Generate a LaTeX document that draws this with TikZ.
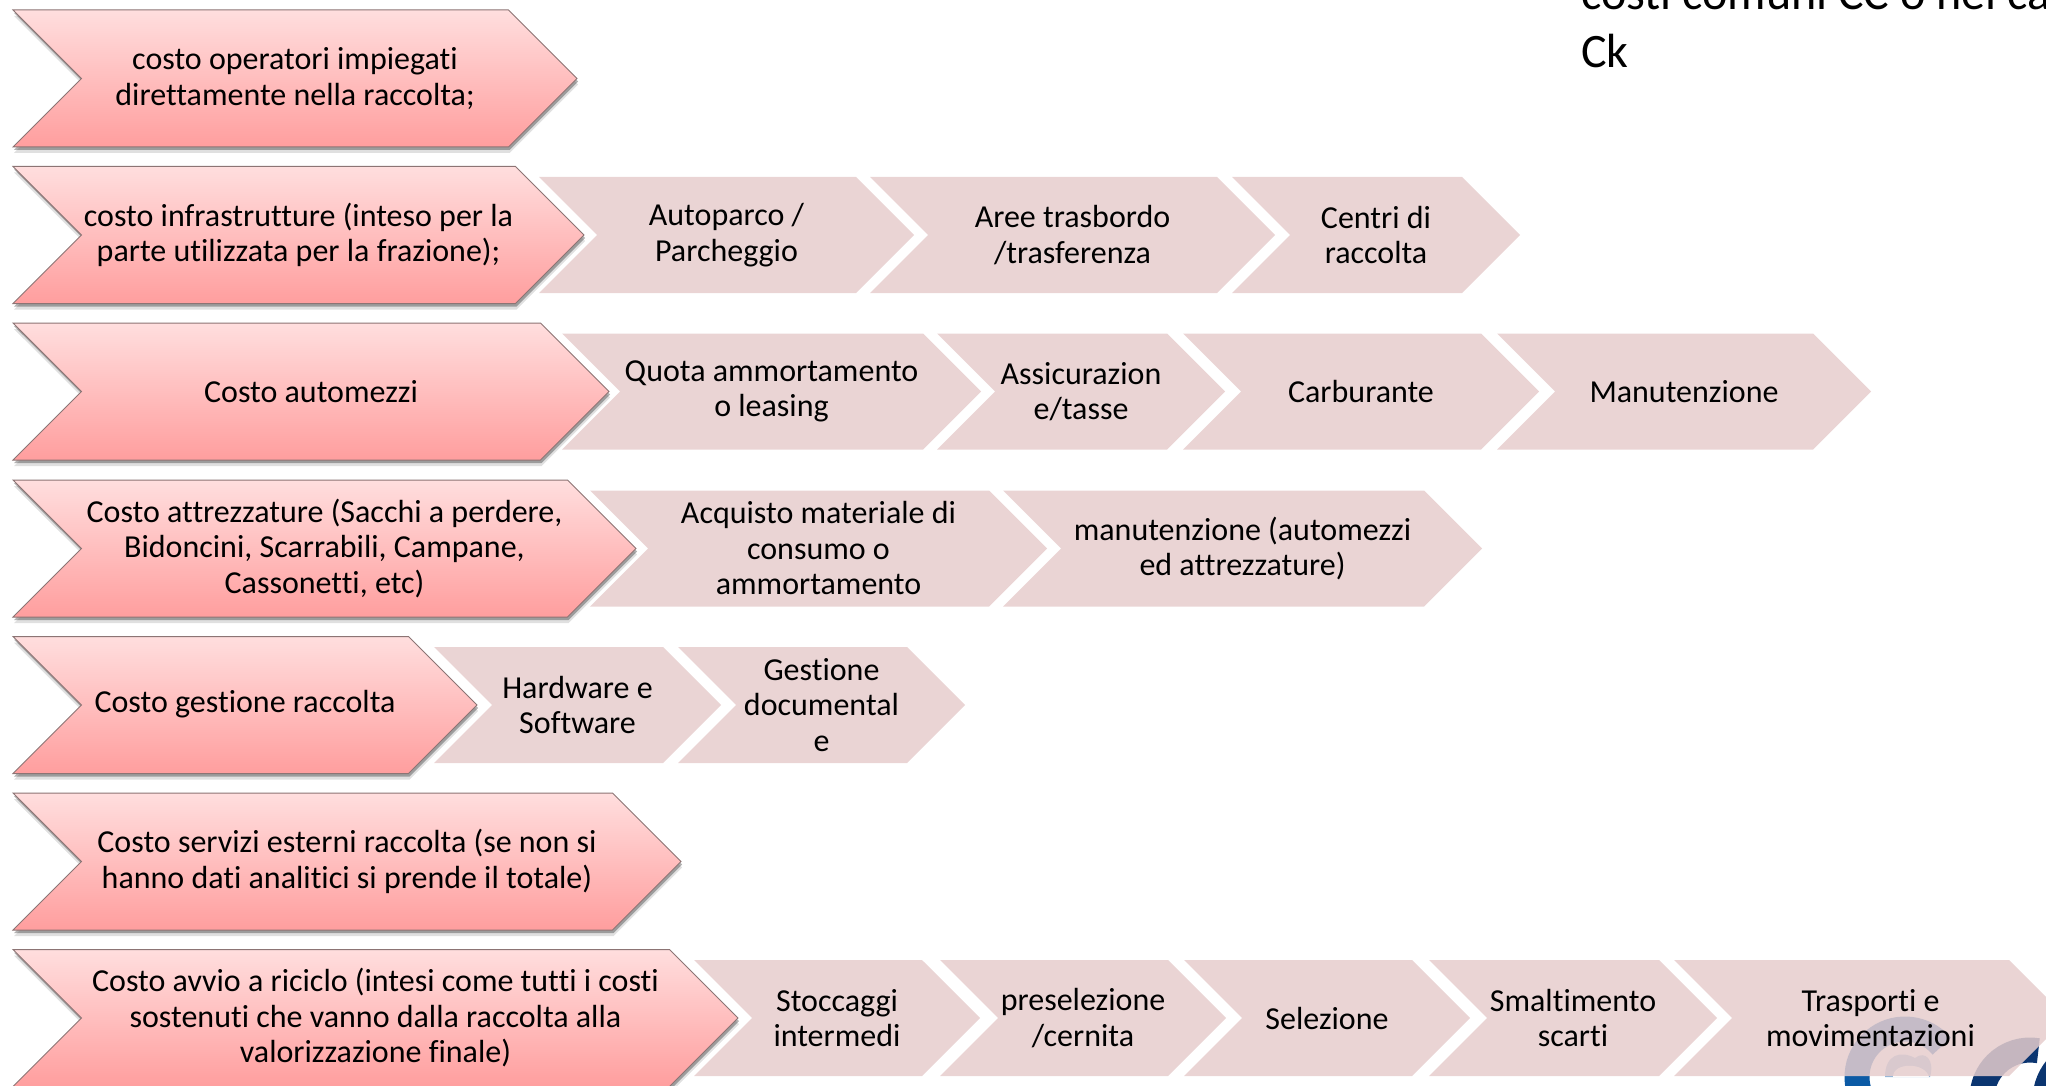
\documentclass[tikz,border=0pt]{standalone}
\usepackage{fontspec}
\setmainfont{Carlito}[Ligatures=NoCommon]
\usetikzlibrary{shapes.symbols,shadows}
\definecolor{redtop}{HTML}{FFDEDE}
\definecolor{redbot}{HTML}{FF9E9E}
\definecolor{redline}{HTML}{8C7474}
\definecolor{lightred}{HTML}{E6CDCD}
\definecolor{logoblue}{HTML}{0B5AA5}
\definecolor{logodark}{HTML}{0B3570}
\definecolor{logoleaf}{HTML}{8FB4D8}
\tikzset{
mainarrow/.style={signal, signal to=east, signal from=west, signal pointer angle=90,
  minimum height=137pt, inner sep=0pt, align=center, draw=redline, line width=1pt,
  top color=redtop, bottom color=redbot, font=\fontsize{32}{35.5}\selectfont,
  drop shadow={shadow xshift=1pt, shadow yshift=-3pt, fill=black, opacity=.3},
  drop shadow={shadow xshift=1pt, shadow yshift=-6pt, fill=black, opacity=.12}},
subarrow/.style={signal, signal to=east, signal from=west, signal pointer angle=90,
  minimum height=116pt, inner sep=0pt, align=center, fill=lightred, fill opacity=.85,
  text opacity=1, font=\fontsize{32}{35.5}\selectfont},
}
\begin{document}
\begin{tikzpicture}[x=1pt,y=-1pt]
\useasboundingbox (0,0) rectangle (2046,1086);
\clip (0,0) rectangle (2046,1086);
% logo behind the last row
\draw[logoblue, line width=25pt] (1905,1077) ++(215:48pt) arc (215:40:48pt);
\draw[logodark, line width=25pt] (2030,1098) ++(225:48pt) arc (225:80:48pt);
\draw[logodark, line width=25pt] (2095,1100) ++(230:50pt) arc (230:110:50pt);
\fill[logoleaf] (1885,1077) .. controls (1885,1055) and (1900,1050) .. (1915,1058) .. controls (1925,1050) and (1935,1060) .. (1930,1077) -- cycle;
\fill[white] (1893,1077) .. controls (1893,1062) and (1925,1062) .. (1929,1077) -- cycle;
% sub arrows
\node[subarrow, minimum width=375pt] (autoparco) at (726.5,235) {Autoparco /\\Parcheggio};
\node[subarrow, minimum width=405pt] (aree) at (1072.5,235) {Aree trasbordo\\/trasferenza};
\node[subarrow, minimum width=288pt] (centri) at (1376,235) {Centri di\\raccolta};
\node[subarrow, minimum width=419pt] (quota) at (771.5,391.5) {Quota ammortamento\\o leasing};
\node[subarrow, minimum width=288pt] (assicurazione) at (1081,391.5) {Assicurazion\\e/tasse};
\node[subarrow, minimum width=356pt] (carburante) at (1361,391.5) {Carburante};
\node[subarrow, minimum width=374pt] (manutenzione) at (1684,391.5) {Manutenzione};
\node[subarrow, minimum width=457pt] (acquisto) at (818.5,548.5) {Acquisto materiale di\\consumo o\\ammortamento};
\node[subarrow, minimum width=479pt] (manut) at (1242.5,548.5) {manutenzione (automezzi\\ed attrezzature)};
\node[subarrow, minimum width=287pt] (hardware) at (577.5,705) {Hardware e\\Software};
\node[subarrow, minimum width=287pt] (gestione) at (821.5,705) {Gestione\\documental\\e};
\node[subarrow, minimum width=286pt] (stoccaggi) at (837,1018) {Stoccaggi\\intermedi};
\node[subarrow, minimum width=286pt] (preselezione) at (1083,1018) {preselezione\\/cernita};
\node[subarrow, minimum width=286pt] (selezione) at (1327,1018) {Selezione};
\node[subarrow, minimum width=288pt] (smaltimento) at (1573,1018) {Smaltimento\\scarti};
\node[subarrow, minimum width=393pt] (trasporti) at (1870.5,1018) {Trasporti e\\movimentazioni};
% main arrows
\node[mainarrow, minimum width=564pt] (operatori) at (295,78.5) {costo operatori impiegati\\direttamente nella raccolta;};
\node[mainarrow, minimum width=571pt] (infrastrutture) at (298.5,235) {costo infrastrutture (inteso per la\\parte utilizzata per la frazione);};
\node[mainarrow, minimum width=596pt] (automezzi) at (311,391.5) {Costo automezzi};
\node[mainarrow, minimum width=623pt] (attrezzature) at (324.5,548.5) {Costo attrezzature (Sacchi a perdere,\\Bidoncini, Scarrabili, Campane,\\Cassonetti, etc)};
\node[mainarrow, minimum width=464pt] (raccolta) at (245,705) {Costo gestione raccolta\strut};
\node[mainarrow, minimum width=668pt] (servizi) at (347,861.5) {Costo servizi esterni raccolta (se non si\\hanno dati analitici si prende il totale)};
\node[mainarrow, minimum width=725pt] (riciclo) at (375.5,1018) {Costo avvio a riciclo (intesi come tutti i costi\\sostenuti che vanno dalla raccolta alla\\valorizzazione finale)};
% note cut by the page
\node[anchor=north west, inner sep=0pt, align=left, font=\fontsize{48}{58}\selectfont] (note) at (1581,-24) {costi comuni CC o nel ca\\Ck};
\end{tikzpicture}
\end{document}
